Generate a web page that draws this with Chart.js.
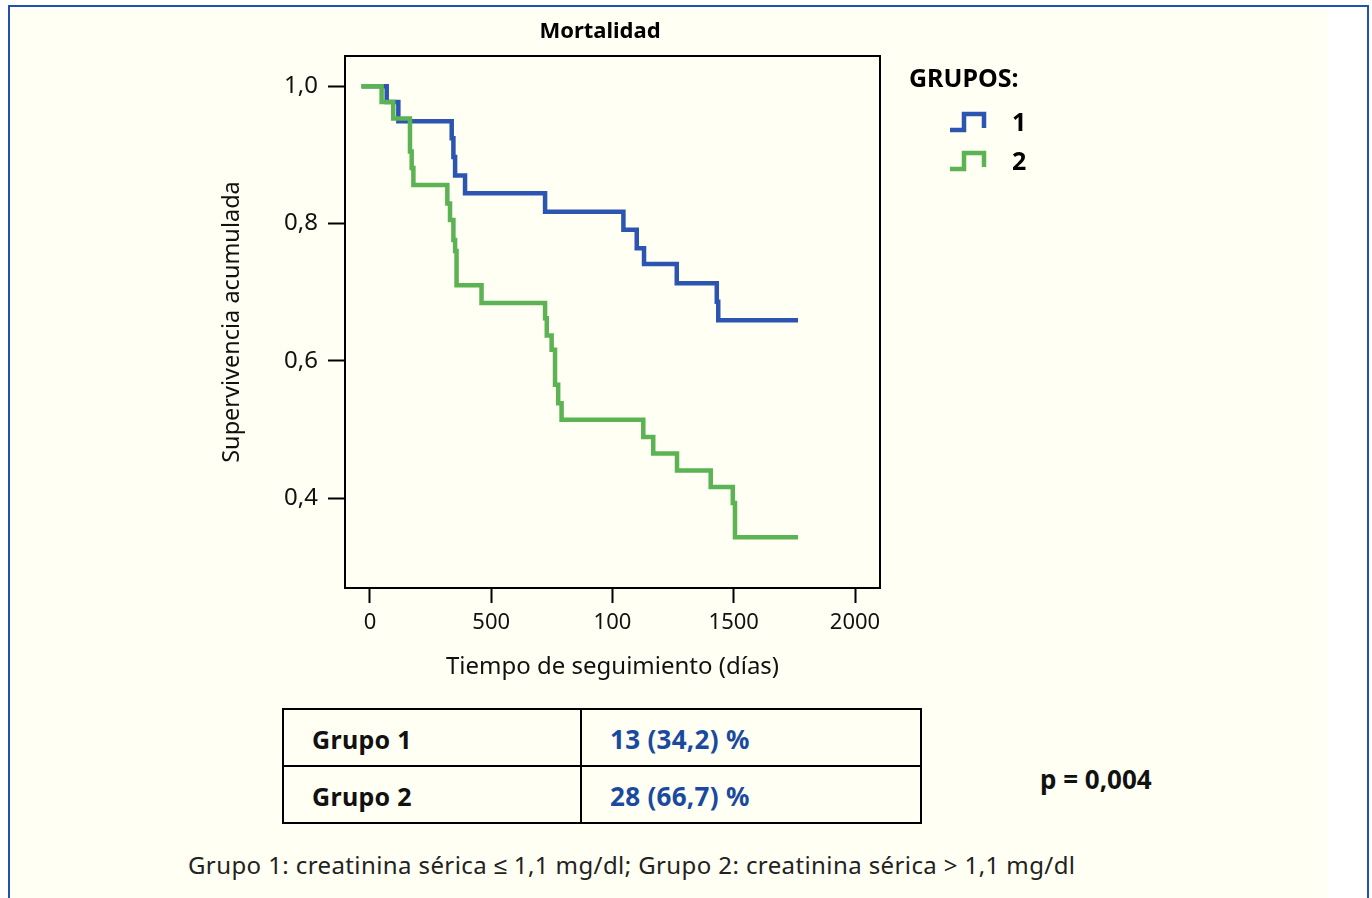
<!DOCTYPE html>
<html>
<head>
<meta charset="utf-8">
<script src="https://cdn.jsdelivr.net/npm/chart.js@4.4.1/dist/chart.umd.min.js"></script>
<style>
  body { margin: 0; width: 1372px; height: 898px; overflow: hidden; background: #fff; font-family: 'Noto Sans', sans-serif; color: #111; }
  #panel { position: absolute; left: 8px; top: 5px; width: 1357px; height: 900px; border: 2px solid #2350b4; border-bottom: none;
           background: linear-gradient(to right, #fffff3 0, #fffff3 1317px, #fff 1317px); }
  #chartBox { position: absolute; left: 0; top: 0; width: 1372px; height: 690px; }
  #resumen { position: absolute; left: 282px; top: 708px; width: 640px; border-collapse: collapse; }
  #resumen td { border: 2px solid #000; height: 53px; font-weight: bold; font-size: 25px; letter-spacing: 0.3px; padding: 2px 0 0 0; }
  #resumen td.g { width: 268px; padding-left: 28px; }
  #resumen td.v { padding-left: 28px; color: #1a4aa0; font-size: 26px; }
  #pval { position: absolute; left: 1040px; top: 761px; font-weight: bold; font-size: 26px; }
  #nota { position: absolute; left: 188px; top: 848px; font-size: 24px; letter-spacing: 0.4px; color: #222; }
</style>
</head>
<body>
<div id="panel"></div>
<div id="chartBox"><canvas id="km" width="1372" height="690"></canvas></div>
<table id="resumen">
  <tr><td class="g">Grupo 1</td><td class="v">13 (34,2) %</td></tr>
  <tr><td class="g">Grupo 2</td><td class="v">28 (66,7) %</td></tr>
</table>
<div id="pval">p = 0,004</div>
<div id="nota">Grupo 1: creatinina sérica ≤ 1,1 mg/dl; Grupo 2: creatinina sérica &gt; 1,1 mg/dl</div>
<script>
const chartTitle = 'Mortalidad';
const legendTitle = 'GRUPOS:';
const groupLabels = ['1', '2'];
const groupColors = ['#2b55b0', '#5bb353'];

// grupo 1 (creatinina <= 1,1)
const days1 = [-35, 69, 117, 337, 344, 351, 392, 722, 1045, 1100, 1130, 1265, 1430, 1436, 1765];
const surv1 = [1.0, 0.977, 0.949, 0.924, 0.897, 0.870, 0.844, 0.817, 0.791, 0.764, 0.741, 0.713, 0.686, 0.659, 0.659];

// grupo 2 (creatinina > 1,1)
const days2 = [-35, 48, 96, 165, 172, 179, 319, 330, 344, 351, 357, 460, 722, 729, 749, 763, 776, 790, 1127, 1168, 1266, 1405, 1496, 1505, 1765];
const surv2 = [1.0, 0.977, 0.953, 0.905, 0.881, 0.856, 0.829, 0.805, 0.776, 0.760, 0.710, 0.684, 0.662, 0.637, 0.616, 0.565, 0.538, 0.514, 0.489, 0.465, 0.440, 0.416, 0.393, 0.343, 0.343];

const xTicks = [0, 500, 1000, 1500, 2000];
const xTickLabels = ['0', '500', '100', '1500', '2000'];
const yTicks = [0.4, 0.6, 0.8, 1.0];
const yTickLabels = ['0,4', '0,6', '0,8', '1,0'];

Chart.defaults.font.family = "'Noto Sans', sans-serif";
Chart.defaults.color = '#111';

function toPoints(xs, ys) {
  return xs.map((x, i) => ({x: x, y: ys[i]}));
}

const framePlugin = {
  id: 'frame',
  afterDraw(chart) {
    const {ctx, chartArea: a} = chart;
    ctx.save();
    ctx.strokeStyle = '#000';
    ctx.lineWidth = 2;
    ctx.strokeRect(a.left, a.top, a.right - a.left, a.bottom - a.top);

    ctx.fillStyle = '#000';
    ctx.textBaseline = 'middle';
    ctx.textAlign = 'center';
    ctx.font = "bold 22px 'Noto Sans'";
    ctx.fillText(chartTitle, 600, 32);

    // leyenda con el simbolo escalonado
    ctx.textAlign = 'left';
    ctx.font = "bold 25px 'Noto Sans'";
    ctx.fillText(legendTitle, a.right + 29, 80);
    chart.data.datasets.forEach((ds, i) => {
      const y = 122 + i * 39;
      const x0 = a.right + 70;
      ctx.strokeStyle = ds.borderColor;
      ctx.lineWidth = 4.5;
      ctx.beginPath();
      ctx.moveTo(x0, y + 8);
      ctx.lineTo(x0 + 14, y + 8);
      ctx.lineTo(x0 + 14, y - 8);
      ctx.lineTo(x0 + 34, y - 8);
      ctx.lineTo(x0 + 34, y + 6);
      ctx.stroke();
      ctx.fillText(ds.label, a.right + 132, y + 2);
    });
    ctx.restore();
  }
};

new Chart(document.getElementById('km'), {
  type: 'line',
  data: {
    datasets: [
      { label: groupLabels[0], data: toPoints(days1, surv1), borderColor: groupColors[0], order: 1 },
      { label: groupLabels[1], data: toPoints(days2, surv2), borderColor: groupColors[1], order: 0 }
    ]
  },
  options: {
    responsive: false,
    animation: false,
    layout: { padding: { left: 218, top: 56, right: 492, bottom: 0 } },
    elements: {
      line: { stepped: true, borderWidth: 4.5, fill: false, borderCapStyle: 'butt', borderJoinStyle: 'miter' },
      point: { radius: 0 }
    },
    plugins: { legend: { display: false }, tooltip: { enabled: false } },
    scales: {
      x: {
        type: 'linear', min: -103, max: 2103,
        afterBuildTicks: s => { s.ticks = xTicks.map(v => ({value: v})); },
        afterFit: s => { s.height = 102; },
        ticks: { callback: (v, i) => xTickLabels[i], font: { size: 22 }, padding: 7, maxRotation: 0, autoSkip: false },
        grid: { drawOnChartArea: false, drawTicks: true, tickLength: 15, tickColor: '#000', tickWidth: 2 },
        border: { display: false },
        title: { display: true, text: 'Tiempo de seguimiento (días)', font: { size: 24 }, padding: { top: 0, bottom: 8 } }
      },
      y: {
        type: 'linear', min: 0.269, max: 1.044,
        afterBuildTicks: s => { s.ticks = yTicks.map(v => ({value: v})); },
        afterFit: s => { s.width = 127; },
        ticks: { callback: (v, i) => yTickLabels[i], font: { size: 24 }, padding: 10, autoSkip: false },
        grid: { drawOnChartArea: false, drawTicks: true, tickLength: 17, tickColor: '#000', tickWidth: 2 },
        border: { display: false },
        title: { display: true, text: 'Supervivencia acumulada', font: { size: 23.5 }, padding: { top: 0, bottom: 0 } }
      }
    }
  },
  plugins: [framePlugin]
});
</script>
</body>
</html>
